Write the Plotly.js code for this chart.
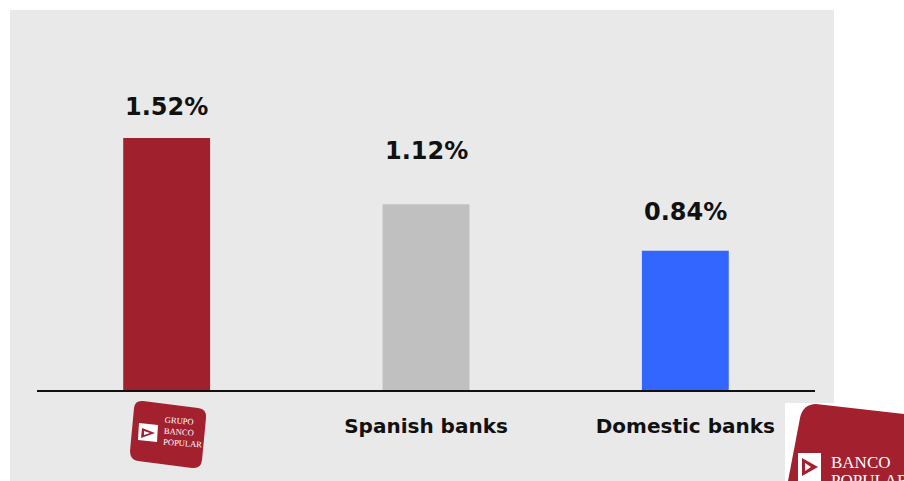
<!DOCTYPE html>
<html>
<head>
<meta charset="utf-8">
<script src="https://cdn.plot.ly/plotly-3.0.1.min.js"></script>
<style>html,body{margin:0;padding:0;background:#fff;}#chart{width:904px;height:481px;}</style>
</head>
<body>
<div id="chart"></div>
<script>
// ---- data ----
var categories = ['Grupo Banco Popular', 'Spanish banks', 'Domestic banks'];
var tickLabels = ['', 'Spanish banks', 'Domestic banks'];
var values = [1.52, 1.12, 0.84];
var barColors = ['#a0212d', '#c0c0c0', '#3366ff'];

// ---- layout geometry helpers (pixel -> paper) ----
var W = 904, H = 481, L = 37, R = 815, T = 30, B = 390;
function X(px) { return (px - L) / (R - L); }
function Y(py) { return (B - py) / (B - T); }
function P(pts) {
  return pts.map(function (p) {
    var s = p[0];
    for (var i = 1; i < p.length; i += 2) s += ' ' + X(p[i]).toFixed(5) + ',' + Y(p[i + 1]).toFixed(5);
    return s;
  }).join(' ') + ' Z';
}

var labelShift = [31, 53, 39];
var labelFont = {family: 'DejaVu Sans', size: 24, color: '#111111', weight: 'bold'};

var annotations = values.map(function (v, i) {
  return {
    x: categories[i], y: v, xref: 'x', yref: 'y',
    text: v.toFixed(2) + '%', showarrow: false,
    yanchor: 'middle', yshift: labelShift[i], font: labelFont
  };
});
// logo texts
annotations.push({
  xref: 'paper', yref: 'paper', x: X(161), y: Y(432), xanchor: 'left', yanchor: 'middle',
  text: 'GRUPO<br>BANCO<br>POPULAR', showarrow: false, align: 'left', textangle: 4,
  font: {family: 'Liberation Serif', size: 8.5, color: '#ffffff'}
});
annotations.push({
  xref: 'paper', yref: 'paper', x: X(829), y: Y(451), xanchor: 'left', yanchor: 'top',
  text: 'BANCO', showarrow: false, align: 'left',
  font: {family: 'Liberation Serif', size: 17, color: '#ffffff'}
});
annotations.push({
  xref: 'paper', yref: 'paper', x: X(829), y: Y(469), xanchor: 'left', yanchor: 'top',
  text: 'POPULAR', showarrow: false, align: 'left',
  font: {family: 'Liberation Serif', size: 17, color: '#ffffff'}
});

var logoRed = '#a3202f';
var shapes = [
  // grey background panel
  {type: 'rect', xref: 'paper', yref: 'paper', x0: X(10), x1: X(834), y0: Y(481), y1: Y(10),
   fillcolor: '#e9e9e9', line: {width: 0}, layer: 'below'},
  // logo 1 (tilted rounded square)
  {type: 'path', xref: 'paper', yref: 'paper', layer: 'above', fillcolor: logoRed, line: {width: 0},
   path: P([['M', 143, 401], ['L', 198, 408], ['Q', 207, 409, 206, 418], ['L', 202, 460], ['Q', 201, 469, 192, 468],
            ['L', 138, 461], ['Q', 130, 460, 130, 451], ['L', 134, 408], ['Q', 135, 400, 143, 401]])},
  // logo 1 icon
  {type: 'path', xref: 'paper', yref: 'paper', layer: 'above', fillcolor: '#ffffff', line: {width: 0},
   path: P([['M', 139, 423], ['L', 158, 425], ['L', 157, 442], ['L', 138, 440]])},
  {type: 'path', xref: 'paper', yref: 'paper', layer: 'above', fillcolor: logoRed, line: {width: 0},
   path: P([['M', 142, 428], ['L', 155, 433], ['L', 141, 438]])},
  {type: 'path', xref: 'paper', yref: 'paper', layer: 'above', fillcolor: '#ffffff', line: {width: 0},
   path: P([['M', 144, 431], ['L', 150, 433], ['L', 144, 435]])},
  // logo 2 white box
  {type: 'rect', xref: 'paper', yref: 'paper', x0: X(785), x1: X(904), y0: Y(481), y1: Y(403),
   fillcolor: '#ffffff', line: {width: 0}, layer: 'above'},
  // logo 2 red shape
  {type: 'path', xref: 'paper', yref: 'paper', layer: 'above', fillcolor: logoRed, line: {width: 0},
   path: P([['M', 788, 481], ['L', 800, 418], ['Q', 803, 404, 816, 404], ['L', 904, 414], ['L', 904, 481]])},
  // logo 2 icon
  {type: 'path', xref: 'paper', yref: 'paper', layer: 'above', fillcolor: '#ffffff', line: {width: 0},
   path: P([['M', 798, 453], ['L', 821, 453], ['L', 821, 481], ['L', 798, 481]])},
  {type: 'path', xref: 'paper', yref: 'paper', layer: 'above', fillcolor: logoRed, line: {width: 0},
   path: P([['M', 802, 458], ['L', 818, 467], ['L', 802, 476]])},
  {type: 'path', xref: 'paper', yref: 'paper', layer: 'above', fillcolor: '#ffffff', line: {width: 0},
   path: P([['M', 805, 463], ['L', 811, 467], ['L', 805, 471]])}
];

var trace = {
  type: 'bar', x: categories, y: values,
  marker: {color: barColors, line: {width: 0}},
  hoverinfo: 'none'
};

var layout = {
  width: W, height: H,
  margin: {l: L, r: W - R, t: T, b: H - B, pad: 0},
  paper_bgcolor: '#ffffff', plot_bgcolor: 'rgba(0,0,0,0)',
  showlegend: false, bargap: 0.665,
  xaxis: {
    type: 'category', range: [-0.5, 2.5], tickmode: 'array', tickvals: categories, ticktext: tickLabels,
    showline: true, linecolor: '#111111', linewidth: 2, showgrid: false, zeroline: false,
    ticks: 'outside', ticklen: 17, tickcolor: 'rgba(0,0,0,0)',
    tickfont: {family: 'DejaVu Sans', size: 20, color: '#111111', weight: 'bold'}
  },
  yaxis: {range: [0, (B - T) / 165.8], visible: false, showgrid: false, zeroline: false},
  annotations: annotations,
  shapes: shapes
};

Plotly.newPlot('chart', [trace], layout, {displayModeBar: false, staticPlot: true});
</script>
</body>
</html>
